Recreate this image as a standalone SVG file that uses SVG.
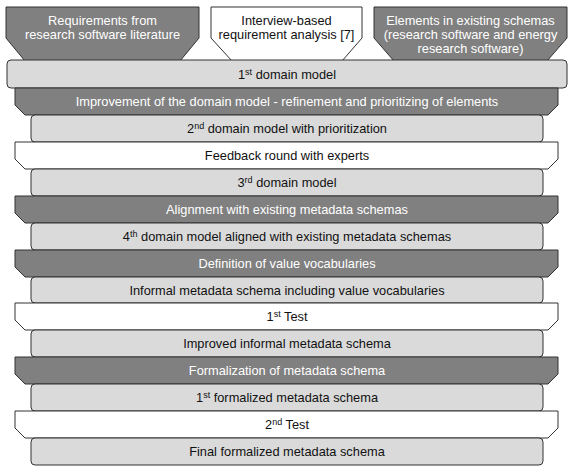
<svg xmlns="http://www.w3.org/2000/svg" width="574" height="470" viewBox="0 0 574 470">
<style>
.dark{fill:#808080;stroke:#333333;stroke-width:1}
.white{fill:#ffffff;stroke:#333333;stroke-width:1}
.light{fill:#dadada;stroke:#333333;stroke-width:1}
text{font-family:"Liberation Sans",Arial,sans-serif;font-size:12.8px;text-anchor:middle}
.tw{fill:#ffffff}
.tb{fill:#111111}
.sup{font-size:9px}
</style>
<rect width="574" height="470" fill="#ffffff"/>
<g id="src-literature">
<path class="dark" d="M6,7 H199 V38 L180,61 H25 L6,38 Z"/>
<text class="tw" x="102.5" y="25">Requirements from</text>
<text class="tw" x="102.5" y="39">research software literature</text>
</g>
<g id="src-interview">
<path class="white" d="M211,7 H362 V38 L342,61 H232 L211,38 Z"/>
<text class="tb" x="286.5" y="25">Interview-based</text>
<text class="tb" x="286.5" y="39">requirement analysis [7]</text>
</g>
<g id="src-schemas">
<path class="dark" d="M374,7 H567 V38 L547,61 H394 L374,38 Z"/>
<text class="tw" x="470.5" y="25">Elements in existing schemas</text>
<text class="tw" x="470.5" y="39">(research software and energy</text>
<text class="tw" x="470.5" y="53">research software)</text>
</g>
<g id="row1">
<rect class="light" x="7" y="60" width="560" height="28" rx="4"/>
<text class="tb" x="287" y="78.5">1<tspan class="sup" dy="-4">st</tspan><tspan dy="4"> domain model</tspan></text>
</g>
<g id="row2">
<path class="dark" d="M15,88 H558 V105 L548,115 H25 L15,105 Z"/>
<text class="tw" x="287" y="106">Improvement of the domain model - refinement and prioritizing of elements</text>
</g>
<g id="row3">
<rect class="light" x="31" y="115" width="512" height="27" rx="4"/>
<text class="tb" x="287" y="133">2<tspan class="sup" dy="-4">nd</tspan><tspan dy="4"> domain model with prioritization</tspan></text>
</g>
<g id="row4">
<path class="white" d="M15,142 H558 V159 L548,169 H25 L15,159 Z"/>
<text class="tb" x="287" y="160">Feedback round with experts</text>
</g>
<g id="row5">
<rect class="light" x="31" y="169" width="512" height="27" rx="4"/>
<text class="tb" x="287" y="187">3<tspan class="sup" dy="-4">rd</tspan><tspan dy="4"> domain model</tspan></text>
</g>
<g id="row6">
<path class="dark" d="M15,196 H558 V213 L548,223 H25 L15,213 Z"/>
<text class="tw" x="287" y="214">Alignment with existing metadata schemas</text>
</g>
<g id="row7">
<rect class="light" x="31" y="223" width="512" height="27" rx="4"/>
<text class="tb" x="287" y="241">4<tspan class="sup" dy="-4">th</tspan><tspan dy="4"> domain model aligned with existing metadata schemas</tspan></text>
</g>
<g id="row8">
<path class="dark" d="M15,250 H558 V267 L548,277 H25 L15,267 Z"/>
<text class="tw" x="287" y="268">Definition of value vocabularies</text>
</g>
<g id="row9">
<rect class="light" x="31" y="277" width="512" height="26" rx="4"/>
<text class="tb" x="287" y="294.5">Informal metadata schema including value vocabularies</text>
</g>
<g id="row10">
<path class="white" d="M15,303 H558 V320 L548,330 H25 L15,320 Z"/>
<text class="tb" x="287" y="321">1<tspan class="sup" dy="-4">st</tspan><tspan dy="4"> Test</tspan></text>
</g>
<g id="row11">
<rect class="light" x="31" y="330" width="512" height="27" rx="4"/>
<text class="tb" x="287" y="348">Improved informal metadata schema</text>
</g>
<g id="row12">
<path class="dark" d="M15,357 H558 V374 L548,384 H25 L15,374 Z"/>
<text class="tw" x="287" y="375">Formalization of metadata schema</text>
</g>
<g id="row13">
<rect class="light" x="31" y="384" width="512" height="27" rx="4"/>
<text class="tb" x="287" y="402">1<tspan class="sup" dy="-4">st</tspan><tspan dy="4"> formalized metadata schema</tspan></text>
</g>
<g id="row14">
<path class="white" d="M15,411 H558 V428 L548,438 H25 L15,428 Z"/>
<text class="tb" x="287" y="429">2<tspan class="sup" dy="-4">nd</tspan><tspan dy="4"> Test</tspan></text>
</g>
<g id="row15">
<rect class="light" x="31" y="438" width="512" height="27" rx="4"/>
<text class="tb" x="287" y="456">Final formalized metadata schema</text>
</g>
<g id="connectors"/>
</svg>
